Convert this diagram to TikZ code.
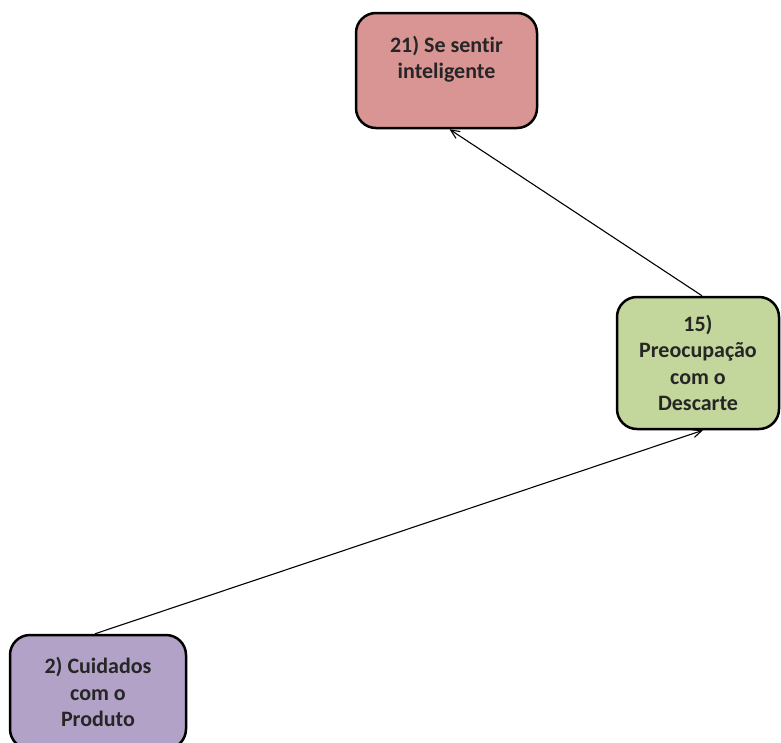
\documentclass[tikz,border=0pt]{standalone}
\usepackage{fontspec}
\setmainfont{Carlito}[Ligatures=NoCommon]
\usetikzlibrary{arrows.meta}
\definecolor{boxred}{HTML}{D99594}
\definecolor{boxgreen}{HTML}{C3D69B}
\definecolor{boxpurple}{HTML}{B2A2C7}
\tikzset{
  box/.style={draw=black, line width=2.5pt, rounded corners=20pt, align=center,
    font=\fontsize{22}{26.3}\selectfont\bfseries, text=black!85, inner sep=2pt},
  link/.style={line width=1.1pt, -{Straight Barb[length=9pt,width=8pt,line width=1.1pt]}}
}
\begin{document}
\begin{tikzpicture}[x=1pt,y=-1pt]
\useasboundingbox (0,0) rectangle (781,742);
\clip (0,0) rectangle (781,742);
\node[box, fill=boxred, minimum width=181pt, minimum height=115pt] (t21) at (446.5,70.5) {21) Se sentir\\inteligente\\\mbox{}};
\node[box, fill=boxgreen, minimum width=162pt, minimum height=132pt] (t15) at (698,363) {15)\\Preocupação\\com o\\Descarte};
\node[box, fill=boxpurple, minimum width=176pt, minimum height=114pt] (t2) at (98,692) {2) Cuidados\\com o\\Produto};
\draw[link] ([xshift=4pt]t15.north) -- ([xshift=3pt]t21.south);
\draw[link] ([xshift=-3pt]t2.north) -- ([xshift=5pt]t15.south);
\end{tikzpicture}
\end{document}
